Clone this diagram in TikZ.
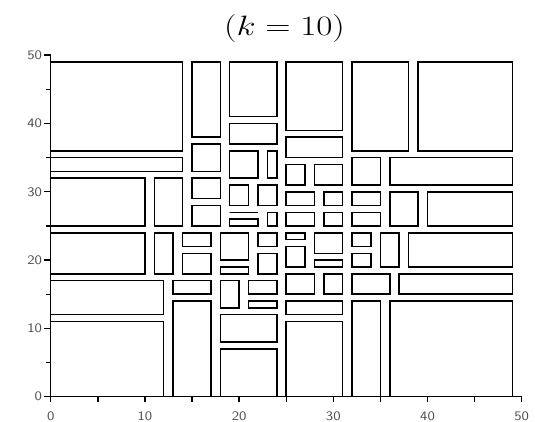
\documentclass[tikz,border=0pt]{standalone}
\usepackage{graphicx}
\tikzset{
  rbox/.style={draw=black, line width=1.5pt},
  axisline/.style={draw=black, line width=1.4pt},
  ticklab/.style={inner sep=0pt, text=black!70, font=\sffamily\fontsize{13}{13}\selectfont},
}
\begin{document}
\begin{tikzpicture}[x=1pt,y=1pt]
\useasboundingbox (0,0) rectangle (535,422);
\node (title) at (284.5,393) {\scalebox{1.41}[1.125]{\fontsize{24.88}{30}\selectfont$(k=10)$}};
\begin{scope}[shift={(50.7pt,25.3pt)}, x=9.42pt, y=6.83pt]
  \foreach \a/\b/\c/\d in {
    0/36/14/49, 0/33/14/35, 0/25/10/32, 11/25/14/32,
    15/38/18/49, 15/33/18/37, 15/29/18/32, 15/25/18/28,
    19/41/24/49, 19/37/24/40, 19/32/22/36, 23/32/24/36,
    19/28/21/31, 22/28/24/31, 19/27/22/27, 19/25/22/26, 23/25/24/27,
    25/39/31/49, 25/35/31/38, 25/31/27/34, 28/31/31/34,
    25/28/28/30, 29/28/31/30, 25/25/28/27, 29/25/31/27,
    32/36/38/49, 39/36/49/49, 32/31/35/35, 36/31/49/35,
    32/28/35/30, 36/25/39/30, 40/25/49/30, 32/25/35/27,
    0/18/10/24, 11/18/13/24, 14/22/17/24, 14/18/17/21,
    18/20/21/24, 18/18/21/19, 22/22/24/24, 22/18/24/21,
    0/12/12/17, 0/0/12/11, 13/15/17/17, 13/0/17/14,
    18/13/20/17, 21/15/24/17, 21/13/24/14, 18/8/24/12, 18/0/24/7,
    25/23/27/24, 28/21/31/24, 25/19/27/22, 28/19/31/20,
    32/22/34/24, 32/19/34/21, 35/19/37/24, 38/19/49/24,
    25/15/28/18, 29/15/31/18, 32/15/36/18, 37/15/49/18,
    25/12/31/14, 25/0/31/11, 32/0/35/14, 36/0/49/14}
    \draw[rbox] (\a,\b) rectangle (\c,\d);
  % axes
  \coordinate (O) at (0,0);
  \coordinate (xend) at (50,0);
  \coordinate (yend) at (0,50);
  \draw[axisline] (yend) -- (O) -- (xend);
  \foreach \t in {0,10,...,50} {
    \draw[axisline] (\t,0) -- ++(0,-5pt);
    \draw[axisline] (0,\t) -- ++(-7pt,0);
    \node[ticklab] (xl\t) at ([yshift=-20pt]\t,0) {\scalebox{1.15}[1]{\t}};
    \node[ticklab, anchor=east] (yl\t) at ([xshift=-8.5pt]0,\t) {\scalebox{1.15}[1]{\t}};
  }
  \foreach \t in {5,15,...,45} {
    \draw[axisline] (\t,0) -- ++(0,-5pt);
    \draw[axisline] (0,\t) -- ++(-5pt,0);
  }
\end{scope}
\end{tikzpicture}
\end{document}
